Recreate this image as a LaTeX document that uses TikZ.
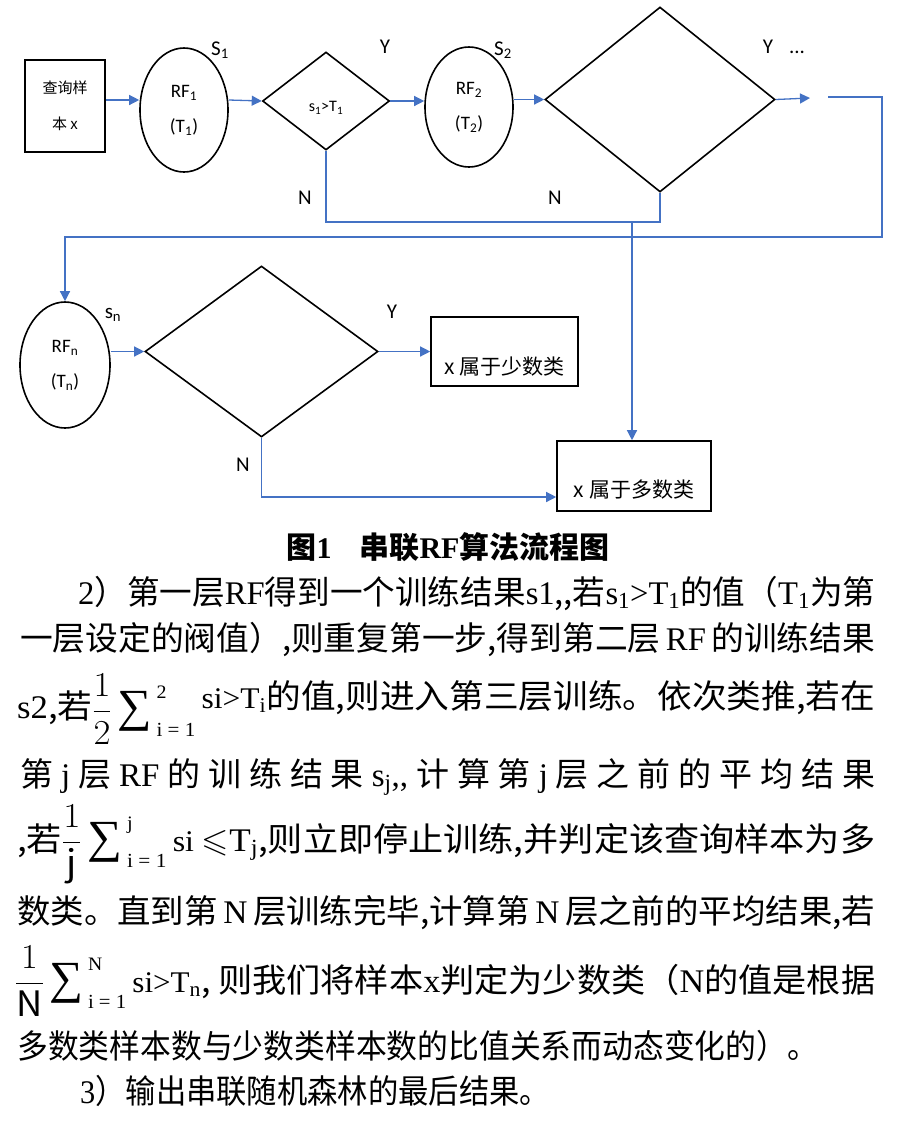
\RequirePackage{fix-cm}
\documentclass[tikz,border=0pt]{standalone}
\usepackage{amsmath,amssymb}
\usepackage{fontspec}
\setmainfont{Noto Sans CJK SC}
\newfontfamily\lat{Liberation Serif}
\newfontfamily\calib{Carlito}
\usepackage{graphicx}
\usetikzlibrary{shapes.geometric,arrows.meta}

\definecolor{linkblue}{RGB}{68,114,196}
\newcommand{\fitline}[2]{\resizebox{#1}{\height}{#2}}
\newcommand{\bigmath}[1]{{\fontsize{35}{35}\selectfont$#1$}}
\newcommand{\sumop}{\mathop{\vcenter{\hbox{\lat\fontsize{46}{46}\selectfont ∑\kern4pt}}}\nolimits}
\newcommand{\sumlim}[1]{\sumop_{\lower4pt\hbox{\lat\fontsize{20}{20}\selectfont i = 1}}^{\raise2pt\hbox{\lat\fontsize{19}{19}\selectfont #1}}}
\newcommand{\sival}[1]{{\lat\fontsize{30}{30}\selectfont #1}}

\tikzset{
  flow/.style={draw=black, line width=1.6pt, inner sep=0pt},
  rfnode/.style={flow, ellipse, align=center, font=\calib\fontsize{19}{35}\selectfont},
  decide/.style={flow, diamond},
  endbox/.style={flow, rectangle},
  boxtext/.style={inner sep=0pt, font=\fontsize{21}{21}\selectfont},
  tag/.style={inner sep=1pt, font=\calib\fontsize{21}{21}\selectfont},
  link/.style={draw=linkblue, line width=1.3pt},
  arr/.style={link, -{Triangle[length=10pt,width=10pt]}},
  body/.style={anchor=base west, inner sep=0pt, font=\fontsize{33}{33}\selectfont},
}

\begin{document}
\begin{tikzpicture}[x=1pt,y=-1pt]
    \useasboundingbox (0,0) rectangle (900,1128);

    % Primera fila: muestra, RF1, decisión 1, RF2, decisión 2
    \node[endbox, minimum width=80pt, minimum height=92pt, align=center,
          font=\fontsize{15}{36}\selectfont] (q) at (65,106) {查询样\\本 x};
    \node[rfnode, minimum width=88pt, minimum height=124pt] (rf1) at (184,110)
        {RF\textsubscript{1}\\(T\textsubscript{1})};
    \node[decide, minimum width=127pt, minimum height=98pt,
          font=\calib\fontsize{16}{16}\selectfont] (d1) at (326,101)
        {\raisebox{-7pt}[\height][\depth]{s\textsubscript{1}>T\textsubscript{1}}};
    \node[rfnode, minimum width=88pt, minimum height=120pt] (rf2) at (469,107)
        {RF\textsubscript{2}\\(T\textsubscript{2})};
    \node[decide, minimum width=230pt, minimum height=185pt] (d2) at (660,99.5) {};

    % Etiquetas de la primera fila
    \node[tag] (s1) at (220,50) {S\textsubscript{1}};
    \node[tag] (y1) at (385,47) {Y};
    \node[tag] (s2) at (503,50) {S\textsubscript{2}};
    \node[tag] (y2) at (784,47) {Y\hspace{16pt}...};
    \node[tag] (n1) at (305,198) {N};
    \node[tag] (n2) at (555,198) {N};

    % Segunda fila: RFn, decisión n, resultados
    \node[rfnode, minimum width=90pt, minimum height=126pt] (rfn) at (65,365)
        {RF\textsubscript{n}\\(T\textsubscript{n})};
    \node[tag] (sn) at (113,315) {s\textsubscript{n}};
    \node[decide, minimum width=233pt, minimum height=171pt] (d3) at (261.5,351.5) {};
    \node[tag] (y3) at (392,312) {Y};
    \node[tag] (n3) at (243,465) {N};
    \node[endbox, minimum width=147pt, minimum height=69pt] (min) at (504.5,351.5) {};
    \node[boxtext] (mintext) at ([yshift=-15pt]min.center) {x 属于少数类};
    \node[endbox, minimum width=154pt, minimum height=70pt] (maj) at (634,476) {};
    \node[boxtext] (majtext) at ([yshift=-14pt]maj.center) {x 属于多数类};

    % Puntos libres de los conectores
    \coordinate (r1) at (0,100);
    \coordinate (e1) at (810,98);
    \coordinate (e2) at (828,97);
    \coordinate (low) at (0,222);
    \coordinate (back) at (882,237);
    \coordinate (j) at (632,222);

    % Conectores
    \draw[arr] (q.east |- r1) -- (rf1.west |- r1);
    \draw[arr] (rf1.east |- r1) -- (d1.west);
    \draw[arr] (d1.east) -- (rf2.west |- d1.east);
    \draw[arr] (rf2.east |- d2.west) -- (d2.west);
    \draw[arr] (d2.east) -- (e1);
    \draw[link] (d1.south) |- (d2.south |- low) -- (d2.south);
    \draw[arr] (j) -- (j |- maj.north);
    \draw[arr] (e2) -| (back) -| (rfn.north);
    \draw[arr] (rfn.east |- d3.west) -- (d3.west);
    \draw[arr] (d3.east) -- (min.west);
    \draw[arr] (d3.south) |- ([yshift=-21pt]maj.west);

    % Pie de figura
    \node[inner sep=0pt, font=\bfseries\fontsize{30}{30}\selectfont] (cap) at (448,547)
        {图{\lat 1}\hspace{28pt}串联{\lat RF}算法流程图};

    % Texto del párrafo
    \node[body] (l1) at (78,604) {\fitline{797pt}{{\lat 2}）第一层{\lat RF}得到一个训练结果{\lat s1}{,}{,}若{\lat s\textsubscript{1}>T\textsubscript{1}}的值（{\lat T\textsubscript{1}}为第}};
    \node[body] (l2) at (20,650) {\fitline{855pt}{一层设定的阀值）,则重复第一步,得到第二层\,{\lat RF}\,的训练结果}};
    \node[body] (l3) at (17,708) {\fitline{858pt}{\raisebox{-10pt}{{\lat s2},若}\raisebox{-12pt}{\bigmath{\dfrac{1}{2}\sumlim{2}}}\,\sival{si>T\textsubscript{i}}的值,则进入第三层训练。依次类推,若在}};
    \node[body] (l4) at (20,786) {\makebox[855pt][s]{第 {\lat j} 层 {\lat RF} 的 训 练 结 果 {\lat s\textsubscript{j}{,}{,}} 计 算 第 {\lat j} 层 之 前 的 平 均 结 果}};
    \node[body] (l5) at (17,851) {\fitline{858pt}{,若\bigmath{\dfrac{1}{\mathrm{j}}\sumlim{j}}\,\sival{si}\ $\leqslant${\lat T\textsubscript{j}},则立即停止训练,并判定该查询样本为多}};
    \node[body] (l6) at (17,923) {\fitline{858pt}{数类。直到第\,{\lat N}\,层训练完毕,计算第\,{\lat N}\,层之前的平均结果,若}};
    \node[body] (l7) at (15,992) {\fitline{860pt}{\bigmath{\dfrac{1}{\mathrm{N}}\sumlim{N}}\,\sival{si>T\textsubscript{n}}, 则我们将样本{\lat x}判定为少数类（{\lat N}的值是根据}};
    \node[body] (l8) at (17,1058) {\fitline{801pt}{多数类样本数与少数类样本数的比值关系而动态变化的）。}};
    \node[body] (l9) at (80,1103) {\fitline{470pt}{{\lat 3}）输出串联随机森林的最后结果。}};
\end{tikzpicture}
\end{document}
